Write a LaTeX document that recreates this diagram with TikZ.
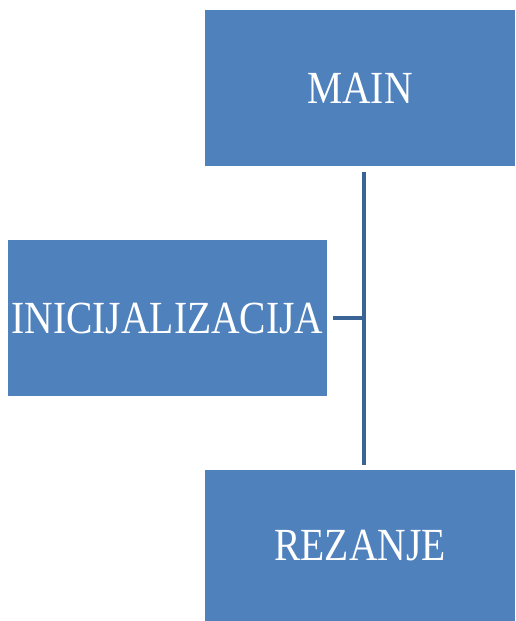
\documentclass[tikz,border=0pt]{standalone}
\usepackage{fontspec}
\setmainfont{Liberation Serif}
\newfontfamily\boxfont[FakeStretch=0.86]{Liberation Serif}
\usetikzlibrary{positioning}
\definecolor{boxblue}{HTML}{4F81BD}
\definecolor{lineblue}{HTML}{3B6496}
\tikzset{
  box/.style={fill=boxblue, text=white, inner sep=0pt,
    minimum width=310pt, minimum height=156pt,
    font=\boxfont\fontsize{46}{50}\selectfont},
  conn/.style={draw=lineblue, line width=4pt}
}
\begin{document}
\begin{tikzpicture}[x=1pt,y=-1pt]
    \useasboundingbox (0,0) rectangle (515,621);

    % Boxes
    \node[box] (main) at (360,88) {MAIN};
    \node[box, minimum width=319pt] (init) at (167.5,318) {INICIJALIZACIJA};
    \node[box, minimum height=151pt] (rez) at (360,545.5) {REZANJE};

    % Connector
    \coordinate (joint) at (363.5,318);
    \draw[conn, shorten <=6pt, shorten >=5pt] (main.south -| joint) -- (rez.north -| joint);
    \draw[conn, shorten <=6pt] (init) -- (joint);
\end{tikzpicture}
\end{document}
